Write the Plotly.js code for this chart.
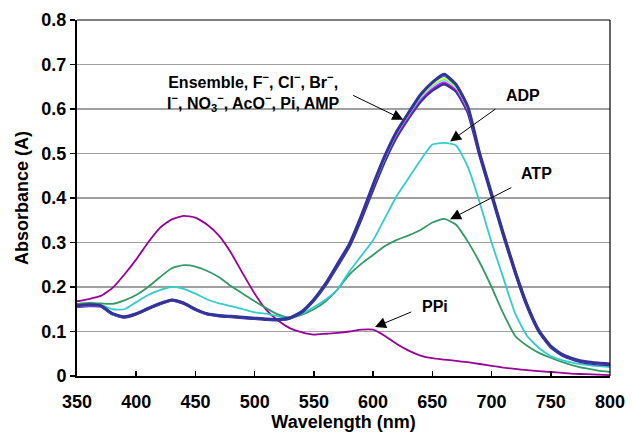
<!DOCTYPE html>
<html>
<head>
<meta charset="utf-8">
<script src="https://cdn.plot.ly/plotly-3.0.1.min.js"></script>
<style>html,body{margin:0;padding:0;background:#fff;}#chart{width:633px;height:436px;}</style>
</head>
<body>
<div id="chart"></div>
<script>
// Wavelength grid (nm)
const wavelength = [350,360,370,380,390,400,410,420,430,440,450,460,470,480,490,500,510,520,530,540,550,560,570,580,590,600,610,620,630,640,650,660,670,680,690,700,710,720,730,740,750,760,770,780,790,800];

// Ensemble and non-responsive anions (overlapping curves)
const ensemble = [0.158,0.160,0.158,0.140,0.133,0.140,0.152,0.163,0.171,0.164,0.150,0.140,0.136,0.134,0.132,0.130,0.128,0.127,0.131,0.145,0.172,0.208,0.252,0.297,0.360,0.430,0.495,0.550,0.592,0.632,0.660,0.678,0.655,0.605,0.500,0.410,0.320,0.235,0.160,0.102,0.067,0.048,0.038,0.032,0.029,0.027];
const anionF = [0.158,0.160,0.158,0.140,0.133,0.140,0.152,0.163,0.171,0.164,0.150,0.140,0.136,0.134,0.132,0.130,0.128,0.127,0.131,0.145,0.172,0.208,0.252,0.297,0.359,0.428,0.493,0.548,0.590,0.630,0.657,0.673,0.652,0.603,0.500,0.410,0.320,0.235,0.160,0.102,0.067,0.048,0.038,0.032,0.029,0.027];
const anionCl = [0.157,0.159,0.157,0.139,0.133,0.140,0.152,0.163,0.170,0.163,0.150,0.140,0.136,0.134,0.132,0.130,0.128,0.127,0.131,0.145,0.171,0.207,0.251,0.296,0.358,0.427,0.491,0.546,0.588,0.627,0.654,0.669,0.649,0.600,0.499,0.409,0.319,0.234,0.159,0.101,0.066,0.047,0.037,0.031,0.028,0.026];
const anionBr = [0.156,0.158,0.157,0.138,0.132,0.139,0.151,0.162,0.170,0.163,0.149,0.139,0.135,0.133,0.131,0.129,0.127,0.126,0.130,0.144,0.170,0.206,0.250,0.295,0.357,0.425,0.489,0.544,0.586,0.624,0.651,0.666,0.647,0.598,0.498,0.408,0.318,0.233,0.158,0.100,0.066,0.047,0.037,0.031,0.028,0.026];
const anionPi = [0.155,0.157,0.156,0.138,0.132,0.139,0.151,0.162,0.169,0.162,0.149,0.139,0.135,0.133,0.131,0.129,0.127,0.126,0.130,0.144,0.170,0.205,0.249,0.294,0.355,0.423,0.487,0.541,0.583,0.620,0.646,0.661,0.643,0.595,0.497,0.407,0.317,0.232,0.157,0.100,0.065,0.046,0.036,0.030,0.027,0.025];
const anionAMP = [0.156,0.158,0.157,0.139,0.132,0.139,0.151,0.162,0.170,0.163,0.149,0.139,0.135,0.133,0.131,0.129,0.127,0.126,0.130,0.144,0.170,0.205,0.248,0.292,0.353,0.420,0.484,0.538,0.580,0.617,0.642,0.656,0.640,0.593,0.496,0.406,0.316,0.232,0.157,0.100,0.065,0.046,0.036,0.030,0.027,0.025];

// Responsive anions
const adp = [0.157,0.160,0.160,0.150,0.150,0.166,0.182,0.193,0.200,0.196,0.185,0.172,0.163,0.157,0.150,0.143,0.140,0.134,0.130,0.140,0.155,0.172,0.195,0.235,0.270,0.305,0.355,0.405,0.445,0.485,0.520,0.524,0.518,0.470,0.390,0.300,0.220,0.140,0.090,0.063,0.045,0.035,0.029,0.025,0.022,0.020];
const atp = [0.162,0.164,0.163,0.162,0.170,0.182,0.200,0.222,0.242,0.249,0.246,0.236,0.222,0.202,0.185,0.168,0.152,0.138,0.131,0.138,0.150,0.168,0.195,0.228,0.252,0.272,0.292,0.306,0.316,0.328,0.345,0.353,0.340,0.302,0.255,0.200,0.140,0.090,0.068,0.052,0.041,0.031,0.023,0.017,0.012,0.009];
const ppi = [0.168,0.173,0.180,0.198,0.228,0.262,0.300,0.333,0.352,0.360,0.356,0.340,0.315,0.277,0.230,0.185,0.148,0.124,0.107,0.098,0.093,0.095,0.097,0.100,0.104,0.104,0.090,0.072,0.057,0.046,0.040,0.037,0.034,0.031,0.027,0.023,0.019,0.016,0.013,0.011,0.009,0.007,0.005,0.004,0.003,0.002];

const yTicks = [0,0.1,0.2,0.3,0.4,0.5,0.6,0.7,0.8];
const yTickText = ['0','0.1','0.2','0.3','0.4','0.5','0.6','0.7','0.8'];
const xTicks = [350,400,450,500,550,600,650,700,750,800];

const FONT = 'Liberation Sans, Arial, sans-serif';

function tr(y, color, width, name){
  return {x: wavelength, y: y, type:'scatter', mode:'lines', name: name,
          line:{color: color, width: width, shape:'spline', smoothing:0.5}, hoverinfo:'skip'};
}

const traces = [
  tr(ppi, '#990099', 1.8, 'PPi'),
  tr(atp, '#339966', 1.8, 'ATP'),
  tr(adp, '#33CCCC', 1.8, 'ADP'),
  tr(anionAMP, '#333399', 3, 'AMP'),
  tr(anionPi, '#FF00FF', 1.2, 'Pi'),
  tr(anionBr, '#00FFFF', 1.2, 'Br-'),
  tr(anionCl, '#FFFF00', 1.2, 'Cl-'),
  tr(anionF, '#008080', 1.2, 'F-'),
  tr(ensemble, '#333399', 3, 'Ensemble')
];

const arrowBase = {xref:'x', yref:'y', text:'', showarrow:true, arrowhead:2, arrowsize:2.2, arrowwidth:1, arrowcolor:'#000', standoff:0, startstandoff:0};
const textBase = {xref:'x', yref:'y', showarrow:false, font:{family:FONT, size:16, color:'#000', weight:'bold'}};

const layout = {
  width: 633, height: 436,
  margin: {l:77, r:23, t:20, b:60},
  paper_bgcolor:'#fff', plot_bgcolor:'#fff',
  showlegend:false,
  font:{family:FONT, color:'#000'},
  xaxis:{
    range:[350,800], tickvals:xTicks, ticks:'inside', ticklen:5, tickwidth:1.5, tickcolor:'#000',
    showline:true, linecolor:'#000', linewidth:2, showgrid:false, zeroline:false,
    tickfont:{family:FONT, size:18, color:'#000', weight:'bold'}, ticklabelstandoff:8,
    title:{text:'<b>Wavelength (nm)</b>', font:{family:FONT, size:18, color:'#000'}, standoff:4}
  },
  yaxis:{
    range:[0,0.8], tickvals:yTicks, ticktext:yTickText, ticks:'outside', ticklen:5, tickwidth:1.5, tickcolor:'#000',
    showline:true, linecolor:'#000', linewidth:2, showgrid:true, gridcolor:'#a0a0a0', gridwidth:1.5, zeroline:false,
    tickfont:{family:FONT, size:18, color:'#000', weight:'bold'},
    title:{text:'<b>Absorbance (A)</b>', font:{family:FONT, size:18, color:'#000'}, standoff:8}
  },
  shapes:[
    {type:'line', xref:'paper', yref:'paper', x0:0, x1:1, y0:1, y1:1, line:{color:'#000', width:1.2}},
    {type:'line', xref:'paper', yref:'paper', x0:1, x1:1, y0:0, y1:1, line:{color:'#000', width:1.2}}
  ],
  annotations:[
    Object.assign({}, textBase, {x:499, y:0.6372, text:'Ensemble, F<sup>−</sup>, Cl<sup>−</sup>, Br<sup>−</sup>,<br>I<sup>−</sup>, NO<sub>3</sub><sup>−</sup>, AcO<sup>−</sup>, Pi, AMP', align:'center'}),
    Object.assign({}, arrowBase, {x:625.5, y:0.576, ax:-51.6, ay:-25}),
    Object.assign({}, textBase, {x:726.6, y:0.630, text:'ADP'}),
    Object.assign({}, arrowBase, {x:665, y:0.527, ax:46.7, ay:-33.4}),
    Object.assign({}, textBase, {x:738.1, y:0.4545, text:'ATP'}),
    Object.assign({}, arrowBase, {x:665, y:0.352, ax:62.7, ay:-32.6}),
    Object.assign({}, textBase, {x:652.3, y:0.1555, text:'PPi'}),
    Object.assign({}, arrowBase, {x:601.6, y:0.110, ax:37.7, ay:-15.7})
  ]
};

Plotly.newPlot('chart', traces, layout, {displayModeBar:false, staticPlot:true});
</script>
</body>
</html>
